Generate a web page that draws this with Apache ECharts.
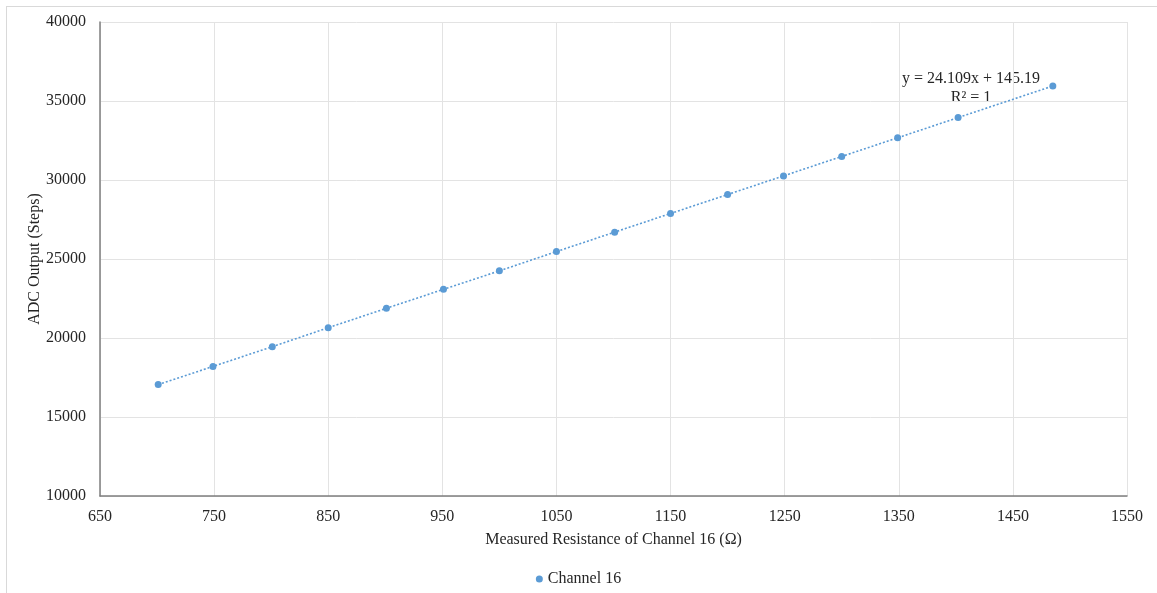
<!DOCTYPE html>
<html>
<head>
<meta charset="utf-8">
<script src="https://cdn.jsdelivr.net/npm/echarts@6/dist/echarts.min.js"></script>
<style>
  html, body { margin: 0; padding: 0; background: #fff; }
  #frame { position: absolute; left: 6px; top: 6px; width: 1200px; height: 640px; border: 1px solid #d9d9d9; }
  #main { position: absolute; left: 0; top: 0; width: 1157px; height: 593px; }
</style>
</head>
<body>
<div id="frame"></div>
<div id="main"></div>
<script>
// 测量电阻 (Ω) 与 ADC 输出
const resistance = [701, 749, 801, 850, 901, 951, 1000, 1050, 1101, 1150, 1200, 1249, 1300, 1349, 1402, 1485];
const adcOutput = [17050, 18200, 19450, 20650, 21880, 23080, 24250, 25470, 26700, 27880, 29080, 30260, 31490, 32670, 33950, 35950];
const seriesName = 'Channel 16';
const trendText = ['y = 24.109x + 145.19', 'R² = 1'];

const points = resistance.map((x, i) => [x, adcOutput[i]]);

var chart = echarts.init(document.getElementById('main'));

const font = 'Liberation Serif';
const textColor = '#262626';
const fs = 16;

const option = {
  animation: false,
  textStyle: { fontFamily: font },
  grid: { left: 100, right: 30, top: 22, bottom: 97 },
  legend: {
    data: [{ name: seriesName, icon: 'circle' }],
    bottom: 1,
    left: 'center',
    itemWidth: 7,
    itemHeight: 7,
    itemGap: 4,
    textStyle: { fontFamily: font, fontSize: fs, color: textColor }
  },
  xAxis: {
    type: 'value',
    min: 650,
    max: 1550,
    interval: 100,
    name: 'Measured Resistance of Channel 16 (Ω)',
    nameLocation: 'middle',
    nameGap: 36,
    nameMoveOverlap: false,
    nameTextStyle: { fontFamily: font, fontSize: fs, color: textColor },
    axisLine: { show: true, lineStyle: { color: '#7f7f7f', width: 1.5 } },
    axisTick: { show: false },
    axisLabel: { fontFamily: font, fontSize: fs, color: textColor, margin: 13, formatter: v => String(v) },
    splitLine: { show: true, lineStyle: { color: '#e3e3e3', width: 1 } }
  },
  yAxis: {
    type: 'value',
    min: 10000,
    max: 40000,
    interval: 5000,
    name: 'ADC Output (Steps)',
    nameLocation: 'middle',
    nameGap: 57,
    nameMoveOverlap: false,
    nameRotate: 90,
    nameTextStyle: { fontFamily: font, fontSize: fs, color: textColor },
    axisLine: { show: true, lineStyle: { color: '#7f7f7f', width: 1.5 } },
    axisTick: { show: false },
    axisLabel: { fontFamily: font, fontSize: fs, color: textColor, margin: 14, formatter: v => String(v) },
    splitLine: { show: true, lineStyle: { color: '#e3e3e3', width: 1 } }
  },
  series: [
    {
      name: seriesName,
      type: 'line',
      data: points,
      symbol: 'circle',
      symbolSize: 7,
      showAllSymbol: true,
      itemStyle: { color: '#5b9bd5' },
      lineStyle: { color: '#5b9bd5', width: 1.6, type: [2, 2] }
    }
  ],
  graphic: [
    {
      type: 'text',
      x: 971,
      y: 69,
      style: {
        text: trendText.join('\n'),
        font: '16px "Liberation Serif"',
        fill: textColor,
        align: 'center',
        verticalAlign: 'top',
        lineHeight: 19
      }
    }
  ]
};

chart.setOption(option);
</script>
</body>
</html>
